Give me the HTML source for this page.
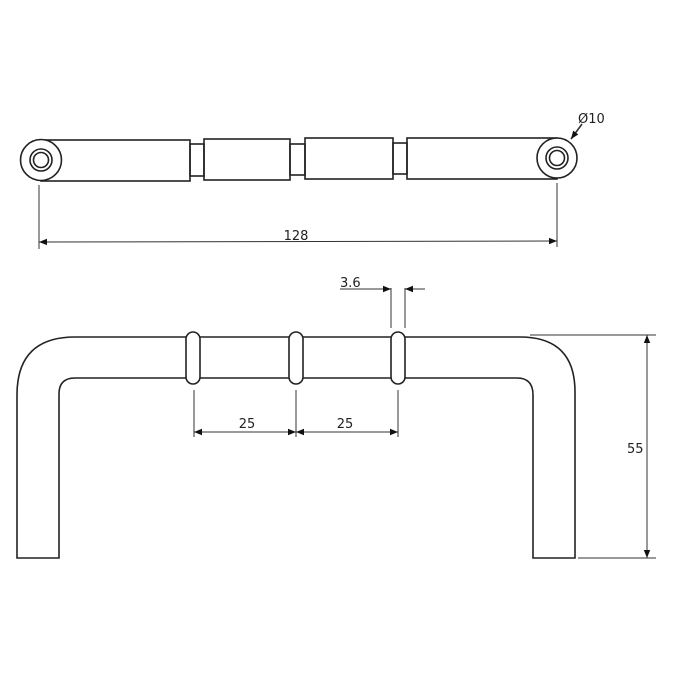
<!DOCTYPE html>
<html><head><meta charset="utf-8"><style>body{margin:0;background:#fff}svg{display:block}</style></head><body>
<svg width="674" height="674" viewBox="0 0 674 674" xmlns="http://www.w3.org/2000/svg" font-family="'DejaVu Sans','Liberation Sans',sans-serif">
<defs>
<marker id="a" viewBox="0 0 10 10" refX="10" refY="5" markerWidth="10" markerHeight="8" orient="auto-start-reverse" markerUnits="userSpaceOnUse"><path d="M0,1 L10,5 L0,9z" fill="#111"/></marker>
</defs>
<g fill="none" stroke="#222" stroke-width="1.6">
<!-- top view -->
<rect x="41" y="140" width="149" height="41"/>
<rect x="190" y="144" width="14" height="32"/>
<rect x="204" y="139" width="86" height="41"/>
<rect x="290" y="144" width="15" height="31"/>
<rect x="305" y="138" width="88" height="41"/>
<rect x="393" y="143" width="14" height="31"/>
<rect x="407" y="138" width="150" height="41"/>
<circle cx="41" cy="160" r="20.5" fill="#fff"/>
<circle cx="41" cy="160" r="11"/>
<circle cx="41" cy="160" r="7.5"/>
<circle cx="557" cy="158" r="20" fill="#fff"/>
<circle cx="557" cy="158" r="11"/>
<circle cx="557" cy="158" r="7.5"/>
</g>
<g stroke="#333" stroke-width="1" fill="none">
<line x1="39" y1="185" x2="39" y2="249"/>
<line x1="557" y1="183" x2="557" y2="247"/>
<line x1="39" y1="242" x2="557" y2="241" marker-start="url(#a)" marker-end="url(#a)"/>
<line x1="582" y1="124" x2="571" y2="139" stroke-width="1.6" marker-end="url(#a)"/>
</g>
<text x="296" y="240" font-size="13" text-anchor="middle" fill="#222">128</text>
<text x="578" y="123" font-size="13" fill="#222">Ø10</text>
<!-- front view -->
<g fill="none" stroke="#222" stroke-width="1.6">
<path d="M17,558 L17,395 Q17,337 75,337 L520,337 Q575,337 575,392 L575,558 L533,558 L533,395 Q533,378 517,378 L75,378 Q59,378 59,394 L59,558 Z"/>
<rect x="186" y="332" width="14" height="52" rx="7" fill="#fff"/>
<rect x="289" y="332" width="14" height="52" rx="7" fill="#fff"/>
<rect x="391" y="332" width="14" height="52" rx="7" fill="#fff"/>
</g>
<g stroke="#333" stroke-width="1" fill="none">
<line x1="194" y1="390" x2="194" y2="437"/>
<line x1="296" y1="390" x2="296" y2="437"/>
<line x1="398" y1="390" x2="398" y2="437"/>
<line x1="194" y1="432" x2="296" y2="432" marker-start="url(#a)" marker-end="url(#a)"/>
<line x1="296" y1="432" x2="398" y2="432" marker-start="url(#a)" marker-end="url(#a)"/>
<line x1="391" y1="288" x2="391" y2="328"/>
<line x1="405" y1="288" x2="405" y2="328"/>
<line x1="340" y1="289" x2="391" y2="289" marker-end="url(#a)"/>
<line x1="425" y1="289" x2="405" y2="289" marker-end="url(#a)"/>
<line x1="530" y1="335" x2="656" y2="335"/>
<line x1="578" y1="558" x2="656" y2="558"/>
<line x1="647" y1="335" x2="647" y2="558" marker-start="url(#a)" marker-end="url(#a)"/>
</g>
<text x="247" y="428" font-size="13" text-anchor="middle" fill="#222">25</text>
<text x="345" y="428" font-size="13" text-anchor="middle" fill="#222">25</text>
<text x="340" y="287" font-size="13" fill="#222">3.6</text>
<text x="627" y="453" font-size="13" fill="#222">55</text>
</svg>
</body></html>
